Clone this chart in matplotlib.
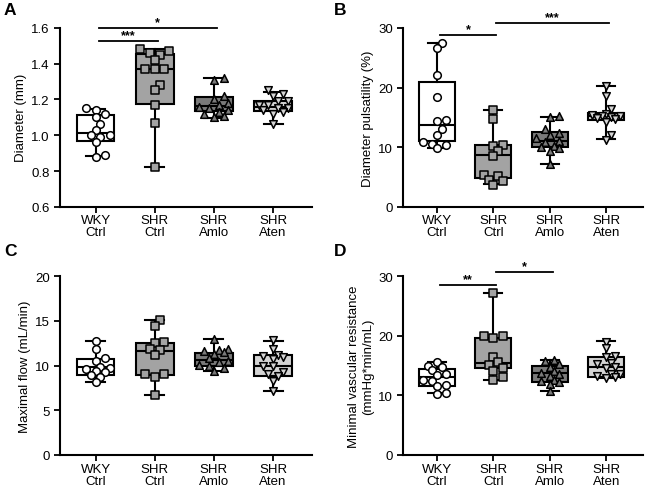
import numpy as np
import matplotlib
matplotlib.use("Agg")
import matplotlib.pyplot as plt

plt.rcParams['font.family'] = ['Liberation Sans', 'DejaVu Sans']

groups = ["WKY\nCtrl", "SHR\nCtrl", "SHR\nAmlo", "SHR\nAten"]
fills = ["#ffffff", "#a3a3a3", "#7a7a7a", "#d4d4d4"]
markers = ["o", "s", "^", "v"]

# ---- panel A: diameter (mm)
diam_pts = [
    [1.15, 1.14, 1.12, 1.10, 1.06, 1.03, 1.00, 1.00, 0.99, 0.96, 0.89, 0.88],
    [1.48, 1.47, 1.46, 1.45, 1.42, 1.37, 1.37, 1.37, 1.28, 1.25, 1.17, 1.07, 0.82],
    [1.32, 1.31, 1.22, 1.20, 1.18, 1.17, 1.16, 1.15, 1.14, 1.13, 1.12, 1.11, 1.10],
    [1.25, 1.23, 1.22, 1.19, 1.19, 1.17, 1.17, 1.15, 1.15, 1.14, 1.13, 1.12, 1.06],
]
# box stats: whislo, q1, med, q3, whishi
diam_box = [
    [0.885, 0.97, 1.01, 1.113, 1.147],
    [0.822, 1.175, 1.371, 1.455, 1.483],
    [1.097, 1.134, 1.162, 1.213, 1.319],
    [1.06, 1.137, 1.158, 1.192, 1.24],
]

# ---- panel B: diameter pulsatility (%)
puls_pts = [
    [27.5, 26.6, 22.1, 18.4, 14.6, 14.4, 13.1, 12.1, 10.8, 10.6, 10.3, 9.8],
    [16.3, 14.7, 10.3, 10.2, 9.4, 8.6, 5.3, 5.2, 4.5, 4.3, 3.6],
    [15.2, 15.1, 13.0, 12.4, 12.0, 11.5, 11.0, 10.8, 10.2, 10.0, 9.8, 9.4, 7.2],
    [20.3, 18.5, 16.4, 15.5, 15.4, 15.3, 15.2, 15.0, 14.9, 14.8, 14.3, 12.1, 11.2],
]
puls_box = [
    [9.8, 11.0, 13.7, 21.0, 27.5],
    [3.8, 4.8, 8.7, 10.3, 16.3],
    [7.2, 10.0, 11.1, 12.6, 15.1],
    [11.3, 14.5, 15.2, 15.75, 20.3],
]

# ---- panel C: maximal flow (mL/min)
flow_pts = [
    [12.7, 11.8, 10.8, 10.5, 9.8, 9.7, 9.6, 9.4, 9.3, 8.9, 8.7, 8.2],
    [15.1, 14.4, 12.6, 12.5, 11.9, 11.7, 11.2, 9.1, 9.0, 8.7, 6.7],
    [13.0, 11.9, 11.7, 11.6, 11.5, 11.3, 10.8, 10.5, 10.4, 10.1, 10.0, 9.7, 9.4],
    [12.8, 11.8, 11.2, 11.1, 11.0, 10.7, 10.0, 9.9, 9.3, 9.0, 8.8, 8.3, 7.2],
]
flow_box = [
    [8.2, 8.95, 9.8, 10.7, 12.7],
    [6.75, 8.95, 11.65, 12.5, 15.1],
    [9.4, 10.0, 10.65, 11.35, 13.0],
    [7.2, 8.85, 9.9, 11.15, 12.75],
]

# ---- panel D: minimal vascular resistance
res_pts = [
    [15.6, 15.0, 14.7, 14.2, 13.5, 13.4, 12.5, 12.4, 11.8, 11.5, 10.4, 10.3],
    [27.1, 19.9, 19.9, 19.6, 16.5, 15.6, 15.1, 14.5, 14.1, 13.1, 12.5],
    [16.0, 15.7, 15.2, 14.8, 14.0, 13.8, 13.5, 13.3, 12.5, 12.4, 12.3, 11.9, 10.8],
    [19.0, 17.9, 16.6, 16.4, 15.4, 15.3, 14.8, 14.6, 13.6, 13.5, 13.3, 13.1, 12.9],
]
res_box = [
    [10.4, 11.6, 13.0, 14.4, 15.6],
    [12.5, 14.5, 15.5, 19.6, 27.1],
    [10.8, 12.3, 13.7, 14.85, 16.0],
    [12.9, 13.0, 14.8, 16.4, 19.05],
]

# significance bars: (from group, to group, y, label)
diam_sig = [(0, 1, 1.526, "***"), (0, 2, 1.598, "*")]
puls_sig = [(0, 1, 28.8, "*"), (1, 3, 30.8, "***")]
flow_sig = []
res_sig = [(0, 1, 28.5, "**"), (1, 2, 30.6, "*")]

panels = [
    ("A", diam_pts, diam_box, diam_sig, "Diameter (mm)", (0.6, 1.6), np.arange(0.6, 1.61, 0.2), "%.1f"),
    ("B", puls_pts, puls_box, puls_sig, "Diameter pulsatility (%)", (0, 30), [0, 10, 20, 30], "%d"),
    ("C", flow_pts, flow_box, flow_sig, "Maximal flow (mL/min)", (0, 20), [0, 5, 10, 15, 20], "%d"),
    ("D", res_pts, res_box, res_sig, "Minimal vascular resistance\n(mmHg*min/mL)", (0, 30), [0, 10, 20, 30], "%d"),
]

# axes rectangles in figure fractions
rects = [
    [0.091, 0.575, 0.381, 0.366],
    [0.611, 0.575, 0.363, 0.366],
    [0.091, 0.0675, 0.381, 0.366],
    [0.611, 0.0675, 0.363, 0.366],
]
letter_pos = [(0.006, 0.978), (0.506, 0.978), (0.006, 0.485), (0.506, 0.485)]

AX_H_PX = 179.0   # axes height in pixels
UNIT_PX = 59.0    # pixels per category unit on x
DIAM = 8.0        # marker diameter, pixels


def swarm_offsets(vals, span):
    # rough beeswarm kept inside the box width, overlap allowed when crowded
    vals = np.asarray(vals, dtype=float)
    ypx = vals / span * AX_H_PX
    order = np.argsort(vals)
    placed = []
    offs = np.zeros(len(vals))
    step = DIAM * 0.6
    cands = [0.0]
    k = 1
    while k * step <= 18:
        cands += [k * step, -k * step]
        k += 1
    for i in order:
        best, best_d = 0.0, -1
        for c in cands:
            d = min([np.hypot(c - px, ypx[i] - py) for px, py in placed] or [99])
            if d >= DIAM * 0.8:
                best = c
                break
            if d > best_d:
                best, best_d = c, d
        placed.append((best, ypx[i]))
        offs[i] = best / UNIT_PX
    return offs


fig = plt.figure(figsize=(6.6, 4.89), dpi=100)

for (letter, pts, box, sig, ylabel, ylim, yticks, fmt), rect, lp in zip(panels, rects, letter_pos):
    ax = fig.add_axes(rect)
    stats = []
    for b in box:
        stats.append(dict(whislo=b[0], q1=b[1], med=b[2], q3=b[3], whishi=b[4], fliers=[]))
    bp = ax.bxp(stats, positions=range(4), widths=0.64, patch_artist=True,
                showfliers=False, capwidths=0.32,
                boxprops=dict(linewidth=1.5, edgecolor="black"),
                medianprops=dict(linewidth=1.5, color="black"),
                whiskerprops=dict(linewidth=1.5, color="black"),
                capprops=dict(linewidth=1.5, color="black"))
    for patch, c in zip(bp["boxes"], fills):
        patch.set_facecolor(c)

    span = ylim[1] - ylim[0]
    for i, vals in enumerate(pts):
        offs = swarm_offsets(vals, span)
        ax.scatter(i + offs, vals, marker=markers[i], s=30, facecolor=fills[i],
                   edgecolor="black", linewidth=1.1, zorder=3, clip_on=False)

    for g0, g1, y, lab in sig:
        ax.plot([g0 + 0.05, g1 + 0.05], [y, y], color="black", lw=1.3, clip_on=False)
        ax.text((g0 + g1) / 2 + 0.05, y, lab, ha="center", va="bottom", fontsize=9,
                fontweight="bold")

    ax.set_xlim(-0.6, 3.65)
    ax.set_ylim(*ylim)
    ax.set_yticks(yticks)
    ax.set_yticklabels([fmt % t for t in yticks])
    ax.set_xticks(range(4))
    ax.set_xticklabels(groups)
    for lbl in ax.get_xticklabels():
        lbl.set_linespacing(1.0)
    ax.set_ylabel(ylabel, fontsize=9.5, labelpad=3)
    ax.tick_params(labelsize=9.5, width=1.3, length=4)
    ax.tick_params(axis="x", pad=1.5)
    for s in ["top", "right"]:
        ax.spines[s].set_visible(False)
    for s in ["left", "bottom"]:
        ax.spines[s].set_linewidth(1.5)

    fig.text(lp[0], lp[1], letter, fontsize=12.5, fontweight="bold", va="center")

fig.savefig("out.png", dpi=100)
